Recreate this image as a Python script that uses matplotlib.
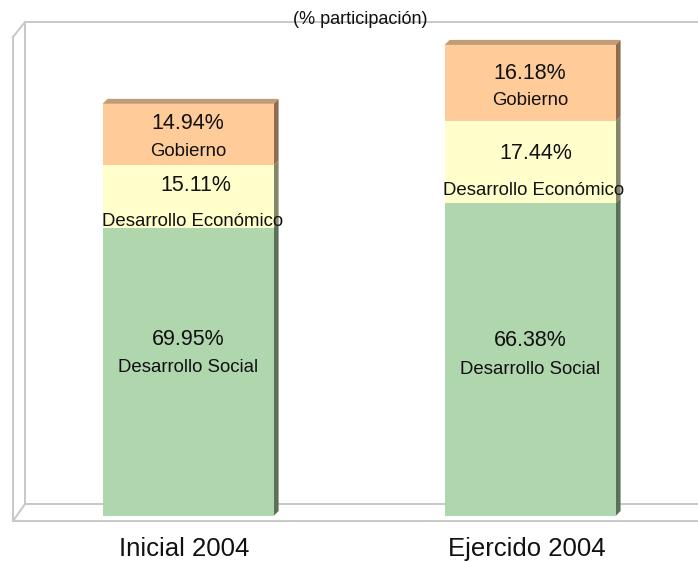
import matplotlib
matplotlib.use('Agg')
import matplotlib.pyplot as plt
from matplotlib.patches import Polygon
from matplotlib.transforms import IdentityTransform, blended_transform_factory

# ===============================
# DATA
# ===============================
categories = ['Inicial 2004', 'Ejercido 2004']
social = [69.95, 75.9]
economico = [15.11, 19.9]
gobierno = [14.94, 18.5]

pct_social = ['69.95%', '66.38%']
pct_economico = ['15.11%', '17.44%']
pct_gobierno = ['14.94%', '16.18%']

series_names = ['Desarrollo Social', 'Desarrollo Económico', 'Gobierno']

# ===============================
# STYLE
# ===============================
plt.rcParams['font.family'] = ['Liberation Sans', 'DejaVu Sans']

W, H = 698, 562
face = ['#B0D6AD', '#FFFFCC', '#FFCC99']
side = ['#5B6F59', '#85856A', '#8F6C4C']
top_col = '#C29C74'
grid_col = '#C8C8C8'
depth = 5  # px

fig = plt.figure(figsize=(W / 100, H / 100), dpi=100)
fig.patch.set_facecolor('white')


def fp(x, y):
    # pixel (top-left origin) -> figure fraction
    return x / W, 1 - y / H


ax = fig.add_axes([13 / W, (H - 516) / H, 685 / W, 495 / H])
ax.set_xlim(-0.512, 1.491)
ax.set_ylim(0, 120.1)
ax.axis('off')

# ===============================
# 3D BOX (walls & floor)
# ===============================
box_lines = [
    [(25, 22), (698, 22)],
    [(25, 22), (25, 504)],
    [(13, 37), (13, 521)],
    [(13, 37), (25, 22)],
    [(25, 504), (698, 504)],
    [(13, 521), (697, 521)],
    [(13, 521), (25, 504)],
]
for seg in box_lines:
    (x0, y0), (x1, y1) = fp(*seg[0]), fp(*seg[1])
    ax.plot([x0, x1], [y0, y1], color=grid_col, lw=1.4,
            transform=fig.transFigure, clip_on=False, zorder=1)

# ===============================
# BARS
# ===============================
x = range(len(categories))
bottom2 = [a + b for a, b in zip(social, economico)]
b1 = ax.bar(x, social, width=0.5, color=face[0], zorder=3)
b2 = ax.bar(x, economico, width=0.5, bottom=social, color=face[1], zorder=3)
b3 = ax.bar(x, gobierno, width=0.5, bottom=bottom2, color=face[2], zorder=3)

fig.canvas.draw()
for k, cont in enumerate([b1, b2, b3]):
    for rect in cont:
        (px0, py0), (px1, py1) = ax.transData.transform(
            [(rect.get_x(), rect.get_y()),
             (rect.get_x() + rect.get_width(), rect.get_y() + rect.get_height())])
        sp = Polygon([(px1, py0), (px1 + depth, py0 + depth),
                      (px1 + depth, py1 + depth), (px1, py1)],
                     closed=True, facecolor=side[k], edgecolor='none',
                     transform=IdentityTransform(), zorder=2.5, clip_on=False)
        ax.add_artist(sp)
        if k == 2:
            tp = Polygon([(px0, py1), (px1, py1), (px1 + depth, py1 + depth),
                          (px0 + depth, py1 + depth)],
                         closed=True, facecolor=top_col, edgecolor='none',
                         transform=IdentityTransform(), zorder=2.5, clip_on=False)
            ax.add_artist(tp)

# ===============================
# LABELS
# ===============================
# (pct dx, pct dy, name dx, name dy) in pixels, y downward from segment centre
offsets = {
    0: [(0, -32, 0, -4), (8, -11, 4, 25), (0, -11, 0, 17)],
    1: [(0, -19, 0, 10), (6, -9, 3, 28), (0, -10, 0, 17)],
}
pcts = [pct_social, pct_economico, pct_gobierno]
conts = [b1, b2, b3]
for k in range(3):
    for i, rect in enumerate(conts[k]):
        cx = rect.get_x() + rect.get_width() / 2
        cy = rect.get_y() + rect.get_height() / 2
        pdx, pdy, ndx, ndy = offsets[i][k]
        ax.annotate(pcts[k][i], (cx, cy), xytext=(pdx, -pdy),
                    textcoords='offset pixels', ha='center', va='center',
                    fontsize=15.5, color='#111111', zorder=5)
        ax.annotate(series_names[k], (cx, cy), xytext=(ndx, -ndy),
                    textcoords='offset pixels', ha='center', va='center',
                    fontsize=13.4, color='#111111', zorder=5)

# category labels
trans = blended_transform_factory(ax.transData, fig.transFigure)
for i, cat in enumerate(categories):
    ax.text(i - 0.01, fp(0, 549)[1], cat, transform=trans, ha='center',
            va='center', fontsize=18.5, color='#111111', clip_on=False)

# subtitle
sx, sy = fp(360, 20)
fig.text(sx, sy, '(% participación)', ha='center', va='center',
         fontsize=13, color='#111111', zorder=10)

fig.savefig('out.png', dpi=100, facecolor='white')
